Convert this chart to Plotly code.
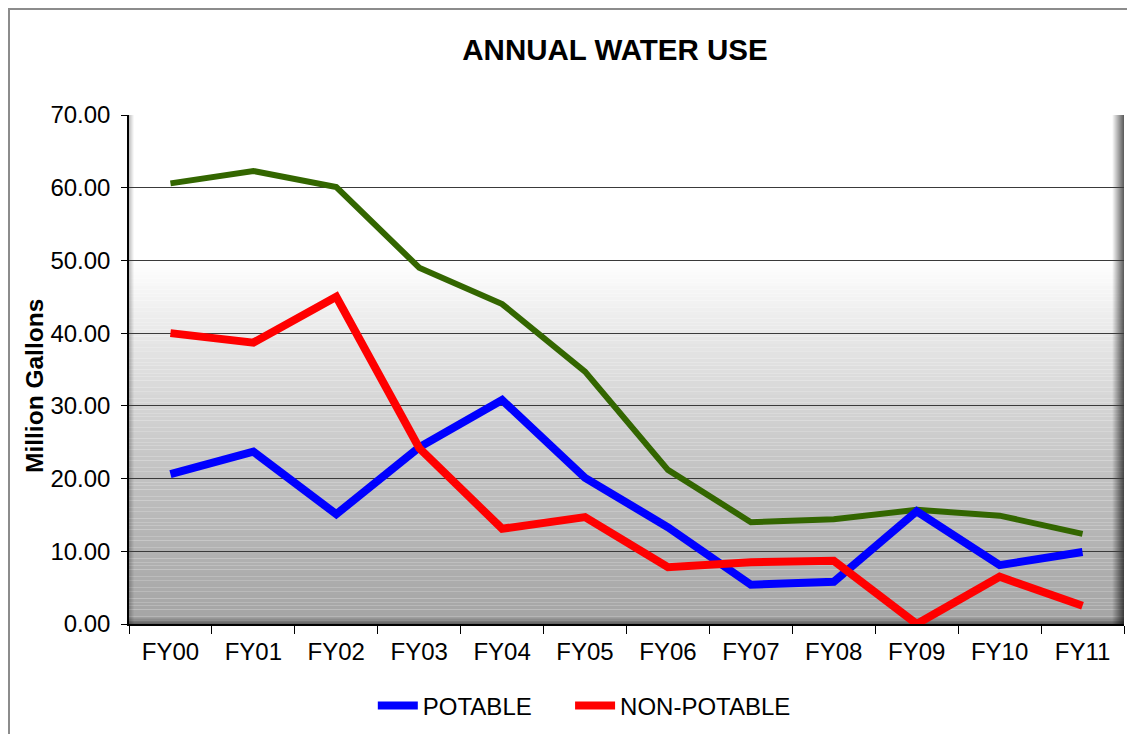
import plotly.graph_objects as go

years = ["FY00", "FY01", "FY02", "FY03", "FY04", "FY05",
         "FY06", "FY07", "FY08", "FY09", "FY10", "FY11"]
potable = [20.6, 23.7, 15.1, 24.3, 30.8, 20.1, 13.3, 5.4, 5.8, 15.5, 8.1, 9.9]
non_potable = [40.0, 38.7, 45.0, 24.2, 13.1, 14.7, 7.8, 8.5, 8.7, 0.0, 6.5, 2.5]
total = [60.6, 62.3, 60.1, 49.0, 44.0, 34.7, 21.2, 14.0, 14.4, 15.7, 14.9, 12.4]

FONT = "Liberation Sans, Arial, sans-serif"
PAD = "\u00a0" * 5  # extra gap between the two legend entries

fig = go.Figure()

fig.add_trace(go.Scatter(
    x=years, y=total, mode="lines", name="TOTAL", showlegend=False,
    line=dict(color="#336600", width=6)
))
fig.add_trace(go.Scatter(
    x=years, y=potable, mode="lines", name="POTABLE" + PAD,
    line=dict(color="#0000ff", width=8)
))
fig.add_trace(go.Scatter(
    x=years, y=non_potable, mode="lines", name="NON-POTABLE",
    line=dict(color="#ff0000", width=8)
))

# plot area background: white on top, grey gradient from 50 down to 0
stops = [(70, 255), (50, 255), (40, 232), (30, 212), (20, 193), (10, 178), (0, 164)]


def shade(v):
    for (v1, c1), (v0, c0) in zip(stops[:-1], stops[1:]):
        if v0 <= v <= v1:
            return round(c0 + (c1 - c0) * (v - v0) / (v1 - v0))
    return 255


shapes = []
step = 0.5
v = 0.0
while v < 70:
    c = shade(v + step / 2)
    shapes.append(dict(
        type="rect", layer="below", xref="x domain", yref="y",
        x0=0, x1=1, y0=v, y1=v + step,
        fillcolor=f"rgb({c},{c},{c})", line=dict(width=0)
    ))
    v += step

# bevel on right, bottom and left edges
for i in range(12):
    a = 0.02 + 0.055 * i
    shapes.append(dict(
        type="rect", layer="below", xref="x domain", yref="y domain",
        xsizemode="pixel", xanchor=1, x0=-12 + i, x1=-11 + i, y0=0, y1=1,
        fillcolor=f"rgba(0,0,0,{a:.3f})", line=dict(width=0)
    ))
for i in range(7):
    a = 0.03 + 0.06 * i
    shapes.append(dict(
        type="rect", layer="below", xref="x domain", yref="y domain",
        ysizemode="pixel", yanchor=0, y0=7 - i, y1=6 - i, x0=0, x1=1,
        fillcolor=f"rgba(0,0,0,{a:.3f})", line=dict(width=0)
    ))
for i in range(5):
    a = 0.03 + 0.05 * i
    shapes.append(dict(
        type="rect", layer="below", xref="x domain", yref="y domain",
        xsizemode="pixel", xanchor=0, x0=5 - i, x1=4 - i, y0=0, y1=1,
        fillcolor=f"rgba(0,0,0,{a:.3f})", line=dict(width=0)
    ))

# outer chart border (only left and top visible)
shapes.append(dict(
    type="rect", xref="paper", yref="paper",
    x0=-0.1206, x1=1.2, y0=-0.4, y1=1.2082,
    line=dict(color="#8c8c8c", width=2), fillcolor="rgba(0,0,0,0)"
))

fig.update_layout(
    width=1127, height=726,
    margin=dict(l=121, r=11, t=107, b=110),
    paper_bgcolor="white",
    plot_bgcolor="white",
    font=dict(family=FONT, size=24, color="black"),
    title=dict(
        text="<b>ANNUAL WATER USE</b>", x=0.5386, xanchor="center",
        y=0.942, yanchor="middle", font=dict(family=FONT, size=29.5, color="black")
    ),
    shapes=shapes,
    annotations=[dict(
        text="<b>Million Gallons</b>", textangle=-90, showarrow=False,
        xref="paper", yref="paper", x=-0.0945, y=0.4676,
        xanchor="center", yanchor="middle",
        font=dict(family=FONT, size=24.5, color="black")
    )],
    showlegend=True,
    legend=dict(
        orientation="h", x=0.4576, xanchor="center",
        yref="container", y=0.0386, yanchor="middle",
        font=dict(family=FONT, size=24, color="black"),
        bgcolor="rgba(0,0,0,0)", itemwidth=40, tracegroupgap=0
    ),
    xaxis=dict(
        type="category", showgrid=False, showline=True, linecolor="black",
        linewidth=1.5, ticks="outside", tickson="boundaries", ticklen=8,
        tickcolor="black", tickfont=dict(family=FONT, size=24),
        ticklabelstandoff=5, range=[-0.5, 11.5], zeroline=False,
        automargin=False
    ),
    yaxis=dict(
        range=[0, 70], dtick=10, tickformat=".2f", showgrid=True,
        gridcolor="#3a3a3a", gridwidth=1, showline=True, linecolor="black",
        linewidth=1.5, ticks="outside", ticklen=6, tickcolor="black",
        tickfont=dict(family=FONT, size=24), ticklabelstandoff=6,
        zeroline=False, automargin=False
    ),
)

fig.write_html("out.html")
